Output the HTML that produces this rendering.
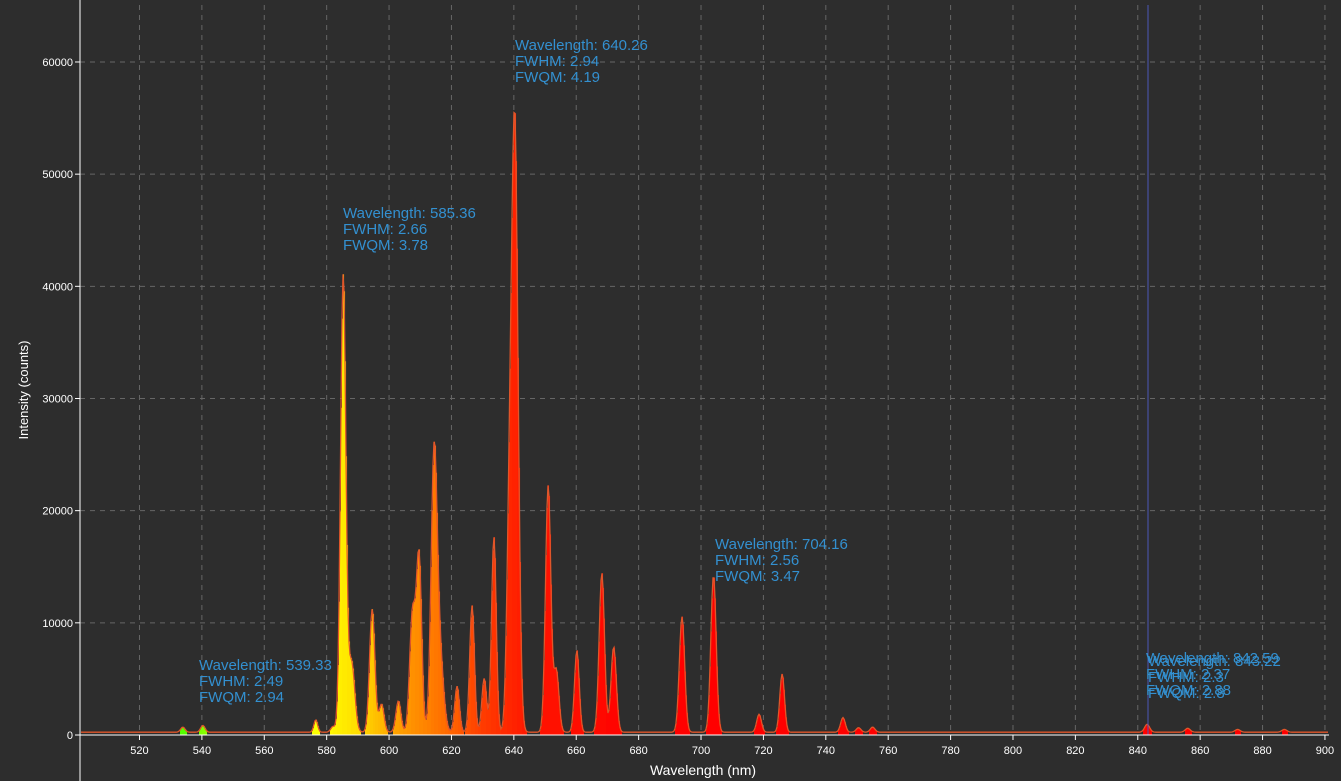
<!DOCTYPE html>
<html><head><meta charset="utf-8"><style>
html,body{margin:0;padding:0;background:#2d2d2d;}
svg{display:block;font-family:"Liberation Sans",sans-serif;}
</style></head><body>
<svg id="chart" width="1341" height="781">
<rect x="0" y="0" width="1341" height="781" fill="#2d2d2d"/>
<g id="grid"></g>
<g id="marks"></g>
<g id="axes"></g>
<g id="ann"></g>
<text x="28" y="390" fill="#fff" font-size="13" text-anchor="middle" transform="rotate(-90 28 390)">Intensity (counts)</text>
<text x="703" y="775" fill="#fff" font-size="14" text-anchor="middle">Wavelength (nm)</text>
</svg>
<script>
const xTicks=[520,540,560,580,600,620,640,660,680,700,720,740,760,780,800,820,840,860,880,900];
const yTicks=[0,10000,20000,30000,40000,50000,60000];
const peakCenters=[533.9,540.3,576.5,582,585.3,588,594.6,597.6,603,607.5,609.6,614.4,616.2,621.8,626.6,630.5,633.6,638.5,640.3,651.0,653.6,660.2,668.2,672.0,693.9,704.0,718.6,726.0,745.5,750.5,755.0,843.0,856,872,887];
const peakHeights=[450,600,1100,500,40800,6200,11000,2500,2800,10500,15600,23600,7000,4100,11300,4800,17400,14500,54000,22000,5500,7300,14200,7600,10300,14000,1600,5200,1300,400,450,700,350,250,250];
const peakWidths=[0.7,0.7,0.6,0.7,0.85,1.0,0.85,0.8,0.8,0.9,0.85,0.95,1.2,0.75,0.75,0.75,0.75,0.85,1.05,0.85,0.85,0.75,0.85,0.85,0.85,0.85,0.75,0.75,0.75,0.75,0.75,0.8,0.8,0.8,0.8];
const baseline=250;
const annotations=[
 {x:515,y:50,lines:["Wavelength: 640.26","FWHM: 2.94","FWQM: 4.19"]},
 {x:343,y:218,lines:["Wavelength: 585.36","FWHM: 2.66","FWQM: 3.78"]},
 {x:715,y:549,lines:["Wavelength: 704.16","FWHM: 2.56","FWQM: 3.47"]},
 {x:199,y:670,lines:["Wavelength: 539.33","FWHM: 2.49","FWQM: 2.94"]},
 {x:1146,y:663,lines:["Wavelength: 842.59","FWHM: 2.37","FWQM: 2.88"]},
 {x:1148,y:666,lines:["Wavelength: 843.22","FWHM: 2.3","FWQM: 2.8"]}
];
const NS="http://www.w3.org/2000/svg";
const L=80,R=1329,T=5,B=735,XMIN=500.93,XMAX=901.3,YMAX=65080;
const xs=v=>L+(v-XMIN)/(XMAX-XMIN)*(R-L);
const ys=v=>B-v/YMAX*(B-T);
function mk(tag,attrs,parent){const e=document.createElementNS(NS,tag);for(const k in attrs)e.setAttribute(k,attrs[k]);parent.appendChild(e);return e;}
const grid=document.getElementById('grid'),axes=document.getElementById('axes'),marks=document.getElementById('marks'),ann=document.getElementById('ann');
xTicks.forEach(t=>{const x=xs(t);
 const g=mk('line',{x1:x,x2:x,y1:T,y2:B,stroke:'#666','stroke-dasharray':'5,5'},grid);
 
 
 const tk=mk('line',{x1:x,x2:x,y1:B,y2:B+5,stroke:'#fff'},axes);
 
 
 const tx=mk('text',{x:x,y:B+19,fill:'#fff','font-size':11,'text-anchor':'middle'},axes);tx.textContent=t;
 
 
});
yTicks.forEach(t=>{const y=ys(t);
 if(t>0){const g=mk('line',{x1:L,x2:R,y1:y,y2:y,stroke:'#666','stroke-dasharray':'5,5'},grid);
 
 }
 const tk=mk('line',{x1:L-5,x2:L,y1:y,y2:y,stroke:'#fff'},axes);
 
 
 const tx=mk('text',{x:L-7,y:y+4,fill:'#fff','font-size':11,'text-anchor':'end'},axes);tx.textContent=t;
 
 
});
function val(w){let s=baseline;for(let i=0;i<peakCenters.length;i++){const d=(w-peakCenters[i])/peakWidths[i];s+=peakHeights[i]*Math.exp(-0.5*d*d);}return s;}
const hs=[[500,110],[535,100],[545,80],[578,60],[590,52],[600,40],[615,28],[630,14],[645,5],[680,0],[1000,0]];
function hue(w){for(let i=1;i<hs.length;i++){if(w<=hs[i][0]){const a=hs[i-1],b=hs[i];return a[1]+(b[1]-a[1])*(w-a[0])/(b[0]-a[0]);}}return 0;}
let pts=[];
for(let px=L+1;px<R;px++){
 const w=XMIN+(px-L)/(R-L)*(XMAX-XMIN);const v=val(w);const y=ys(v);
 pts.push(px+','+y.toFixed(1));
 if(v>baseline+120){const r=mk('rect',{x:px,y:y,width:1.05,height:B-y,fill:'hsl('+hue(w).toFixed(0)+',100%,50%)'},marks);
 
 }
}
const pl=mk('polyline',{points:pts.join(' '),fill:'none',stroke:'#e0562a','stroke-width':1.3},marks);


const cur=mk('line',{x1:1148,x2:1148,y1:T,y2:B,stroke:'#4a56b8','stroke-width':1},marks);


const ax1=mk('line',{x1:L,x2:L,y1:0,y2:781,stroke:'#fff'},axes);


const ax2=mk('line',{x1:L,x2:R,y1:B,y2:B,stroke:'#fff'},axes);


annotations.forEach(a=>{a.lines.forEach((s,i)=>{const t=mk('text',{x:a.x,y:a.y+i*16,fill:'#3390d0','font-size':15},ann);t.textContent=s;
 
 });});
</script>
</body></html>
